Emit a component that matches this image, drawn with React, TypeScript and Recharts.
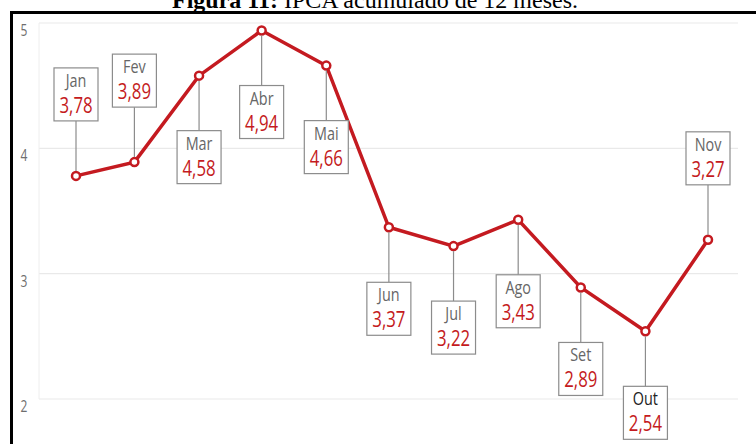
import React from "react";
import { LineChart, Line, XAxis, YAxis, CartesianGrid, LabelList } from "recharts";

const months = ["Jan", "Fev", "Mar", "Abr", "Mai", "Jun", "Jul", "Ago", "Set", "Out", "Nov"];
// day of year at the end of each month (date-based horizontal axis)
const monthEndDay = [31, 59, 90, 120, 151, 181, 212, 243, 273, 304, 334];
const ipca = [3.78, 3.89, 4.58, 4.94, 4.66, 3.37, 3.22, 3.43, 2.89, 2.54, 3.27];
const yTicks = [2, 3, 4, 5];
const labelsAbove = ["Jan", "Fev", "Nov"];
const highlighted = ["Out"];

const data = months.map((m, i) => ({ month: m, day: monthEndDay[i], value: ipca[i] }));

const RED = "#c41a20";
const FONT = "'Open Sans', 'Noto Sans', sans-serif";

const YTick = (props: any) => {
  const { y, payload } = props;
  return (
    <g transform={`translate(24, ${y + 13})`}>
      <text transform="scale(0.75,1)" textAnchor="middle" fontFamily={FONT} fontSize={16} fill="#6e6e6e">
        {payload.value}
      </text>
    </g>
  );
};

const BoxLabel = (props: any) => {
  const { x, y, index } = props;
  const m = months[index];
  const v = ipca[index];
  const above = labelsAbove.includes(m);
  const w = 44;
  const h = 53;
  const gap = 55;
  const top = above ? y - gap - h : y + gap;
  const lineStart = above ? y - 5 : y + 5;
  const lineEnd = above ? top + h : top;
  return (
    <g>
      <line x1={x} x2={x} y1={lineStart} y2={lineEnd} stroke="#8c8c8c" strokeWidth={1.2} />
      <rect x={x - w / 2} y={top} width={w} height={h} fill="#ffffff" stroke="#8c8c8c" strokeWidth={1.2} />
      <g transform={`translate(${x}, ${top + 19})`}>
        <text transform="scale(0.8,1)" textAnchor="middle" fontFamily={FONT} fontSize={18}
          fill={highlighted.includes(m) ? "#222222" : "#666666"}>
          {m}
        </text>
      </g>
      <g transform={`translate(${x}, ${top + 45})`}>
        <text transform="scale(0.8,1)" textAnchor="middle" fontFamily={FONT} fontSize={21} fill={RED}>
          {v.toFixed(2).replace(".", ",")}
        </text>
      </g>
    </g>
  );
};

export default function App() {
  return (
    <div style={{ position: "absolute", left: 0, top: 0, width: 756, height: 444, background: "#ffffff", overflow: "hidden" }}>
      <div style={{ position: "absolute", left: 0, top: 0 }}>
        <LineChart width={756} height={444} data={data} margin={{ top: 23, right: 18, bottom: 45, left: 0 }}>
          <CartesianGrid vertical={false} stroke="#e9e9e9" strokeWidth={1.2} />
          <XAxis dataKey="day" type="number" domain={[31, 334]} hide padding={{ left: 37, right: 30 }} />
          <YAxis
            domain={[2, 5]}
            ticks={yTicks}
            width={39}
            axisLine={{ stroke: "#eeeeee" }}
            tickLine={false}
            tick={<YTick />}
          />
          <Line
            type="linear"
            dataKey="value"
            stroke={RED}
            strokeWidth={3.5}
            isAnimationActive={false}
            dot={{ r: 4, fill: "#ffffff", stroke: RED, strokeWidth: 2.5 }}
          >
            <LabelList dataKey="value" content={<BoxLabel />} />
          </Line>
        </LineChart>
      </div>
      <svg width={756} height={444} style={{ position: "absolute", left: 0, top: 0, pointerEvents: "none" }}>
        <text x={375} y={8} textAnchor="middle" fontFamily="'Liberation Serif', 'Times New Roman', serif" fontSize={24} fill="#000">
          <tspan fontWeight="bold">Figura 11:</tspan>
          <tspan> IPCA acumulado de 12 meses.</tspan>
        </text>
        <path d="M 11.5 446 V 12.5 H 760" fill="none" stroke="#000" strokeWidth={3} />
      </svg>
    </div>
  );
}
